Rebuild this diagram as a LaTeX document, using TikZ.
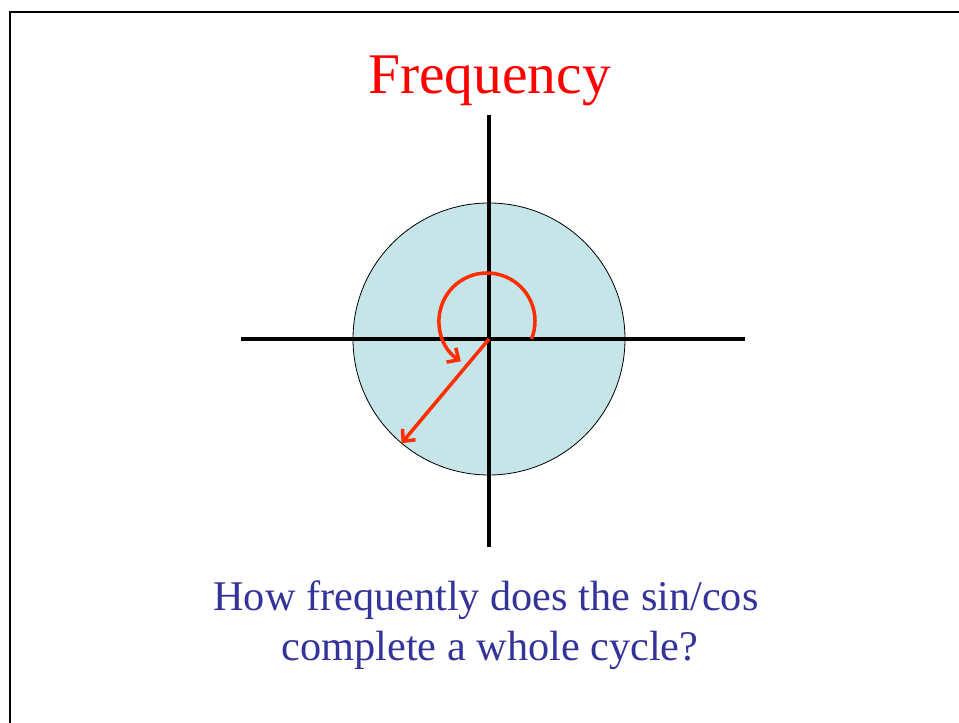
\documentclass[tikz,border=0pt]{standalone}
\usepackage{fontspec}
\setmainfont{Liberation Serif}
\usetikzlibrary{arrows.meta}
\definecolor{titlered}{RGB}{255,0,0}
\definecolor{spinred}{RGB}{255,45,0}
\definecolor{wheelcyan}{RGB}{197,229,232}
\definecolor{questblue}{RGB}{51,51,153}

\begin{document}
\begin{tikzpicture}[x=1pt,y=1pt]
\useasboundingbox (0,0) rectangle (959,723);
% slide frame, only the top and left edges show
\draw[line width=2.5pt] (10,0) -- (10,711) -- (959,711);
\node[anchor=base, text=titlered, font=\fontsize{57.5}{69}\selectfont] (title) at (489.5,629.7) {Frequency};
\coordinate (O) at (489,384);
\node[draw, circle, fill=wheelcyan, minimum size=272pt, inner sep=0pt, line width=0.8pt] (wheel) at (O) {};
\coordinate (xl) at (241,384);
\coordinate (xr) at (745,384);
\coordinate (yt) at (489,608);
\coordinate (yb) at (489,176);
\draw[line width=4pt] (xl) -- (xr);
\draw[line width=4pt] (yt) -- (yb);
\coordinate (spin) at (487,402);
\coordinate (tip) at ([shift={(-130:136)}]O);
\draw[spinred, line width=3.5pt, -{Straight Barb[length=9pt,width=17pt]}] ([shift={(-22:48)}]spin) arc[start angle=-22, end angle=237, radius=48];
\draw[spinred, line width=3.5pt, -{Straight Barb[length=9pt,width=17pt]}] (O) -- (tip);
\node[anchor=base, text=questblue, font=\fontsize{42.3}{50}\selectfont] (q1) at (486,112.3) {How frequently does the sin/cos};
\node[anchor=base, text=questblue, font=\fontsize{42.3}{50}\selectfont] (q2) at (490,62.3) {complete a whole cycle?};
\end{tikzpicture}
\end{document}
